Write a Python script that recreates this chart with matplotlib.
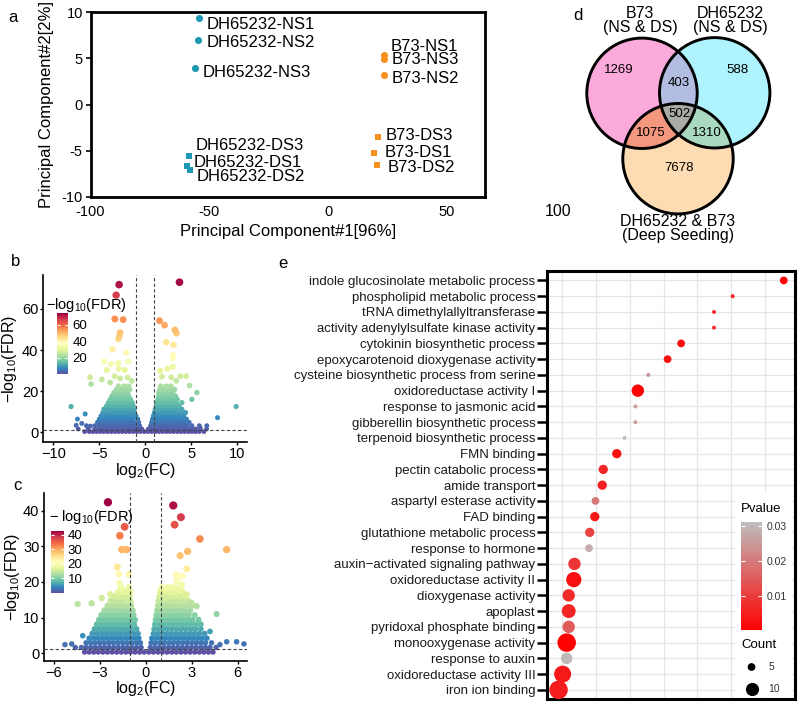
import numpy as np
import matplotlib
matplotlib.use("Agg")
import matplotlib.pyplot as plt
from matplotlib.patches import Circle, Polygon
from matplotlib.colors import LinearSegmentedColormap, Normalize
from matplotlib.cm import ScalarMappable

plt.rcParams['font.family'] = ['Liberation Sans', 'DejaVu Sans']
plt.rcParams['mathtext.fontset'] = 'custom'
plt.rcParams['mathtext.rm'] = 'Liberation Sans'
plt.rcParams['mathtext.default'] = 'regular'

# ---------------- data ----------------
# a: PCA
pca_labels = ['DH65232-NS1', 'DH65232-NS2', 'DH65232-NS3',
              'DH65232-DS3', 'DH65232-DS1', 'DH65232-DS2',
              'B73-NS1', 'B73-NS3', 'B73-NS2',
              'B73-DS3', 'B73-DS1', 'B73-DS2']
pca_line = ['DH65232'] * 6 + ['B73'] * 6
pca_cond = ['NS', 'NS', 'NS', 'DS', 'DS', 'DS', 'NS', 'NS', 'NS', 'DS', 'DS', 'DS']
pca_pc1 = [-54.4, -54.9, -56.0, -58.4, -59.5, -58.1, 23.5, 23.5, 23.5, 20.8, 19.4, 20.5]
pca_pc2 = [9.32, 6.94, 3.91, -5.57, -6.62, -7.08, 5.35, 4.89, 3.16, -3.51, -5.28, -6.54]

# b: volcano (dense cloud read as rows of points, plus the separated points)
b_rows_y = [0.3, 1.6, 3.2, 4.8, 6.4, 8.0, 9.6, 11.2, 12.8, 14.4, 16.0, 17.6, 19.2, 20.8, 22.4]
b_rows_x = [
    [-6.6, -6.1, -5.7, -5.3, -4.9, -4.5, -4.1, -3.7, -3.3, -2.9, -2.5, -2.1, -1.7, -1.3, -0.9, -0.5, -0.1,
     0.3, 0.7, 1.1, 1.5, 1.9, 2.3, 2.7, 3.1, 3.5, 3.9, 4.3, 4.7, 5.1, 5.5, 5.9, 6.4],
    [-7.3, -6.2, -5.5, -5.1, -4.7, -4.3, -3.9, -3.5, -3.1, -2.7, -2.3, -1.9, -1.5, -1.1, -0.7, -0.35,
     0.35, 0.7, 1.1, 1.5, 1.9, 2.3, 2.7, 3.1, 3.5, 3.9, 4.3, 4.7, 5.1, 5.5, 6.0, 6.7],
    [-6.4, -5.5, -5.0, -4.6, -4.2, -3.8, -3.4, -3.0, -2.6, -2.2, -1.8, -1.4, -1.0, -0.6,
     0.6, 1.0, 1.4, 1.8, 2.2, 2.6, 3.0, 3.4, 3.8, 4.2, 4.6, 5.1, 5.9],
    [-5.2, -4.8, -4.4, -4.0, -3.6, -3.2, -2.8, -2.4, -2.0, -1.6, -1.2, -0.7,
     0.7, 1.1, 1.5, 1.9, 2.3, 2.7, 3.1, 3.5, 3.9, 4.3, 4.8],
    [-5.0, -4.5, -4.1, -3.7, -3.3, -2.9, -2.5, -2.1, -1.7, -1.3, -0.8,
     0.8, 1.2, 1.6, 2.0, 2.4, 2.8, 3.2, 3.6, 4.0, 4.5],
    [-4.8, -4.3, -3.9, -3.5, -3.1, -2.7, -2.3, -1.9, -1.5, -1.0,
     0.9, 1.3, 1.7, 2.1, 2.5, 2.9, 3.3, 3.7, 4.2],
    [-4.6, -4.1, -3.7, -3.3, -2.9, -2.5, -2.1, -1.7, -1.2, 1.0, 1.4, 1.8, 2.2, 2.6, 3.0, 3.4, 3.9, 4.4],
    [-4.5, -4.0, -3.6, -3.2, -2.8, -2.4, -2.0, -1.6, -1.2, 1.1, 1.5, 1.9, 2.3, 2.7, 3.1, 3.5, 4.0],
    [-4.2, -3.7, -3.3, -2.9, -2.5, -2.1, -1.7, -1.3, 1.2, 1.6, 2.0, 2.4, 2.8, 3.2, 3.7],
    [-4.0, -3.5, -3.1, -2.7, -2.3, -1.9, -1.4, 1.3, 1.7, 2.1, 2.5, 2.9, 3.4, 4.0],
    [-3.8, -3.3, -2.9, -2.5, -2.1, -1.6, 1.4, 1.8, 2.2, 2.6, 3.0, 3.5],
    [-3.6, -3.1, -2.7, -2.3, -1.8, 1.5, 1.9, 2.3, 2.8, 3.3],
    [-3.4, -2.9, -2.4, -1.9, 1.5, 2.0, 2.5, 3.0],
    [-3.1, -2.6, -2.1, -1.7, 1.6, 2.1, 2.7, 3.2],
    [-2.9, -2.3, -1.8, 1.7, 2.3, 2.8],
]
b_out_x = [-2.84, -3.16, 3.74, -3.30, -2.40, 1.56, 2.11, 3.24, 3.42, -2.73, -2.80, -2.91, 2.29, 3.09,
           -3.57, -2.04, 3.02, 3.02, -4.47, -1.82, -2.94, 3.02, -6.0, -5.89, 5.64, -8.07, 9.92, 7.89,
           -6.54, -3.71, -2.88, -4.18, -2.22, -3.32, -1.92, -4.72, -2.73, -3.82, -1.45,
           1.64, 2.43, 3.82, 4.47, 2.84, 1.82, 4.84, 3.38, 5.09, 6.72, 6.0, -7.38, -6.91, -7.52, -5.97]
b_out_y = [71.8, 66.7, 73.0, 55.1, 54.8, 54.3, 52.1, 49.8, 48.2, 48.5, 46.9, 45.4, 43.8, 42.5,
           40.4, 38.7, 37.6, 36.0, 34.4, 34.4, 33.6, 31.9, 26.8, 23.4, 19.3, 12.5, 12.5, 7.1,
           8.9, 33.2, 30.8, 30.3, 30.3, 27.3, 26.7, 25.7, 26.2, 24.2, 25.0,
           29.9, 30.9, 27.3, 27.3, 26.7, 27.0, 22.7, 25.0, 16.0, 3.2, 2.1, 6.4, 4.3, 3.4, 3.0]

# c: volcano
c_rows_y = [0.3, 1.6, 2.9, 4.2, 5.5, 6.8, 8.1, 9.4, 10.7, 12.0, 13.3, 14.6, 15.9, 17.2, 18.5]
c_rows_x = [
    [-4.0, -3.7, -3.4, -3.1, -2.8, -2.5, -2.2, -1.9, -1.6, -1.3, -1.0, -0.7, -0.4, -0.1,
     0.2, 0.5, 0.8, 1.1, 1.4, 1.7, 2.0, 2.3, 2.6, 2.9, 3.2, 3.5, 3.8, 4.1, 4.4],
    [-4.6, -4.2, -3.9, -3.6, -3.3, -3.0, -2.7, -2.4, -2.1, -1.8, -1.5, -1.2, -0.9, -0.6, -0.3,
     0.3, 0.6, 0.9, 1.2, 1.5, 1.8, 2.1, 2.4, 2.7, 3.0, 3.3, 3.6, 3.9, 4.2, 4.6],
    [-3.9, -3.6, -3.3, -3.0, -2.7, -2.4, -2.1, -1.8, -1.5, -1.2, -0.9, -0.6, -0.35,
     0.35, 0.6, 0.9, 1.2, 1.5, 1.8, 2.1, 2.4, 2.7, 3.0, 3.3, 3.6, 3.9, 4.3],
    [-3.7, -3.4, -3.1, -2.8, -2.5, -2.2, -1.9, -1.6, -1.3, -1.0, -0.7, -0.45,
     0.4, 0.7, 1.0, 1.3, 1.6, 1.9, 2.2, 2.5, 2.8, 3.1, 3.4, 3.7, 4.0],
    [-3.5, -3.2, -2.9, -2.6, -2.3, -2.0, -1.7, -1.4, -1.1, -0.8, -0.5,
     0.5, 0.8, 1.1, 1.4, 1.7, 2.0, 2.3, 2.6, 2.9, 3.2, 3.5, 3.85],
    [-3.35, -3.05, -2.75, -2.45, -2.15, -1.85, -1.55, -1.25, -0.95, -0.6,
     0.55, 0.85, 1.15, 1.45, 1.75, 2.05, 2.35, 2.65, 2.95, 3.25, 3.6],
    [-3.2, -2.9, -2.6, -2.3, -2.0, -1.7, -1.4, -1.1, -0.75,
     0.6, 0.9, 1.2, 1.5, 1.8, 2.1, 2.4, 2.7, 3.0, 3.3, 3.6],
    [-3.05, -2.75, -2.45, -2.15, -1.85, -1.55, -1.25, -0.95, -0.7,
     0.65, 0.95, 1.25, 1.55, 1.85, 2.15, 2.45, 2.75, 3.05, 3.45],
    [-2.9, -2.6, -2.3, -2.0, -1.7, -1.4, -1.1, -0.8, 0.7, 1.0, 1.3, 1.6, 1.9, 2.2, 2.5, 2.8, 3.2],
    [-2.7, -2.4, -2.1, -1.8, -1.5, -1.2, -0.85, 0.75, 1.05, 1.35, 1.65, 1.95, 2.25, 2.55, 2.9],
    [-2.5, -2.2, -1.9, -1.6, -1.3, -0.95, 0.8, 1.1, 1.4, 1.7, 2.0, 2.3, 2.65, 3.0],
    [-2.3, -2.0, -1.7, -1.4, -1.0, 0.85, 1.15, 1.45, 1.75, 2.05, 2.4, 2.8],
    [-2.05, -1.75, -1.45, -1.05, 0.9, 1.2, 1.5, 1.8, 2.2, 2.6],
    [-1.8, -1.4, -1.0, 0.95, 1.3, 1.65, 2.0, 2.4],
    [-1.6, -1.1, 1.05, 1.45, 1.85, 2.3],
]
c_out_x = [-2.47, 1.80, 2.30, 1.89, -1.38, -1.69, 3.54, -1.56, -1.25, 5.29, 2.74, 2.25, 2.69, -1.86,
           -1.75, -1.12, 1.97, 2.19, 2.41, -4.45, -3.54, 4.63, -5.28, -4.84, -4.12, 5.29, 5.94, 6.42,
           4.85, 4.20, -1.73, -1.25, -2.32, -1.14, -2.88, 1.25, 1.69, 2.24, 2.67, 3.0, 3.32, 2.02, 2.35]
c_out_y = [42.4, 41.5, 38.2, 36.1, 35.5, 33.0, 32.1, 29.1, 29.1, 29.1, 28.6, 27.4, 23.7, 24.2,
           22.2, 22.2, 22.0, 21.6, 21.6, 13.8, 14.0, 11.0, 2.4, 2.6, 4.9, 3.2, 3.2, 2.6,
           2.4, 6.1, 19.7, 17.4, 16.5, 15.5, 15.5, 15.5, 18.3, 18.3, 16.5, 14.1, 13.2, 20.2, 19.2]

# d: Venn counts
venn_sets = ['B73\n(NS & DS)', 'DH65232\n(NS & DS)', 'DH65232 & B73\n(Deep Seeding)']
venn_only_b73, venn_only_dh, venn_only_deep = 1269, 588, 7678
venn_b73_dh, venn_b73_deep, venn_dh_deep, venn_all = 403, 1075, 1310, 502

# e: GO enrichment
go_terms = ['indole glucosinolate metabolic process', 'phospholipid metabolic process',
            'tRNA dimethylallyltransferase', 'activity adenylylsulfate kinase activity',
            'cytokinin biosynthetic process', 'epoxycarotenoid dioxygenase activity',
            'cysteine biosynthetic process from serine', 'oxidoreductase activity I',
            'response to jasmonic acid', 'gibberellin biosynthetic process',
            'terpenoid biosynthetic process', 'FMN binding', 'pectin catabolic process',
            'amide transport', 'aspartyl esterase activity', 'FAD binding',
            'glutathione metabolic process', 'response to hormone',
            'auxin\u2212activated signaling pathway', 'oxidoreductase activity II',
            'dioxygenase activity', 'apoplast', 'pyridoxal phosphate binding',
            'monooxygenase activity', 'response to auxin', 'oxidoreductase activity III',
            'iron ion binding']
go_ratio = [0.755, 0.604, 0.549, 0.549, 0.452, 0.412, 0.355, 0.324, 0.317, 0.317, 0.285, 0.262,
            0.222, 0.219, 0.199, 0.197, 0.182, 0.180, 0.137, 0.135, 0.120, 0.120, 0.120, 0.114,
            0.114, 0.102, 0.090]
go_count = [5, 4, 4, 4, 5, 5, 4, 9, 4, 4, 4, 6, 6, 6, 5, 6, 6, 5, 9, 13, 9, 11, 9, 19, 8, 16, 19]
go_pvalue = [0.0002, 0.006, 0.008, 0.008, 0.002, 0.003, 0.024, 0.0001, 0.026, 0.026, 0.0312, 0.003,
             0.006, 0.005, 0.020, 0.004, 0.011, 0.028, 0.009, 0.003, 0.007, 0.006, 0.015, 0.0001,
             0.030, 0.004, 0.005]

W, H = 798, 702
TEAL = '#1d98b3'
ORANGE = '#f7901e'


def box(x0, y0, x1, y1):
    return [x0 / W, 1 - y1 / H, (x1 - x0) / W, (y1 - y0) / H]


fig = plt.figure(figsize=(W / 100, H / 100), dpi=100)

# ---------------- a: PCA ----------------
lab_dx = [8, 9, 8, 6, 7, 7, 7, 8, 8, 8, 10, 11]
lab_dy = [6, 2.4, 4.2, -10.2, -3.2, 6.7, -9, 0.6, 3, -1.2, -1.3, 2.2]
ax = fig.add_axes(box(90.5, 12, 485, 197))
for i, lab in enumerate(pca_labels):
    col = TEAL if pca_line[i] == 'DH65232' else ORANGE
    if pca_cond[i] == 'NS':
        ax.scatter(pca_pc1[i], pca_pc2[i], s=26, marker='o', color=col, lw=0, zorder=3)
    else:
        ax.scatter(pca_pc1[i], pca_pc2[i], s=20, marker='s', color=col, lw=0, zorder=3)
    ax.annotate(lab, (pca_pc1[i], pca_pc2[i]), xytext=(lab_dx[i] * 0.72, -lab_dy[i] * 0.72),
                textcoords='offset points', ha='left', va='center', fontsize=12)
ax.set_xlim(-100, 66)
ax.set_ylim(-10, 10)
ax.set_xticks([-100, -50, 0, 50])
ax.set_xticklabels(['-100', '-50', '0', '50'])
ax.set_yticks([-10, -5, 0, 5, 10])
ax.set_yticklabels(['-10', '-5', '0', '5', '10'])
ax.tick_params(axis='x', length=0, pad=6, labelsize=10.5)
ax.tick_params(axis='y', length=3.5, width=1.2, pad=2, labelsize=10.5)
for sp in ax.spines.values():
    sp.set_linewidth(2)
ax.set_xlabel('Principal Component#1[96%]', fontsize=12)
ax.set_ylabel('Principal Component#2[2%]', fontsize=12)
ax.xaxis.set_label_coords(0.5, -0.184)
ax.xaxis.label.set_va('center')
ax.yaxis.set_label_coords(-0.111, 0.5)
ax.yaxis.label.set_va('center')


# ---------------- b, c: volcano ----------------
def volcano(pos, rows_y, rows_x, out_x, out_y, vmax, base_d, xlim, ylim, xticks, yticks,
            cbox, cticks, title, title_xy, xlab_y, ylab_x):
    ax = fig.add_axes(box(*pos))
    cmap = plt.get_cmap('Spectral_r')
    norm = Normalize(0, vmax)
    xs, ys = [], []
    for yv, xr in zip(rows_y, rows_x):
        xs += xr
        ys += [yv] * len(xr)
    order = np.argsort(out_y)
    xs += [out_x[k] for k in order]
    ys += [out_y[k] for k in order]
    ys_a = np.array(ys)
    d = base_d + 3.0 * ys_a / vmax
    ax.scatter(xs, ys, s=(d * 0.72) ** 2, c=ys_a, cmap=cmap, norm=norm, lw=0, zorder=2)
    for xv in (-1, 1):
        ax.axvline(xv, ls=(0, (3, 2)), color='#444444', lw=0.8, zorder=3)
    ax.axhline(1.3, ls=(0, (3, 2)), color='#444444', lw=0.8, zorder=3)
    ax.set_xlim(*xlim)
    ax.set_ylim(*ylim)
    ax.set_xticks(xticks)
    ax.set_yticks(yticks)
    for s in ('top', 'right'):
        ax.spines[s].set_visible(False)
    for s in ('left', 'bottom'):
        ax.spines[s].set_linewidth(1.2)
    ax.tick_params(labelsize=10.5, length=2.5, width=1, pad=1)
    ax.set_xlabel('log$_2$(FC)', fontsize=11.5)
    ax.set_ylabel('\u2212log$_{10}$(FDR)', fontsize=11.5)
    ax.xaxis.set_label_coords(0.5, xlab_y)
    ax.xaxis.label.set_va('center')
    ax.yaxis.set_label_coords(ylab_x, 0.5)
    ax.yaxis.label.set_va('center')

    cax = fig.add_axes(box(*cbox))
    cb = fig.colorbar(ScalarMappable(norm=norm, cmap=cmap), cax=cax)
    cb.set_ticks(cticks)
    cb.outline.set_visible(False)
    cax.tick_params(labelsize=9.5, length=2.5, width=0.8, color='white', direction='in',
                    left=True, right=True, pad=3)
    fig.text(title_xy[0] / W, 1 - title_xy[1] / H, title, fontsize=10.5, ha='left', va='center')
    return ax


volcano((43.3, 275, 247, 441.7), b_rows_y, b_rows_x, b_out_x, b_out_y, 74, 4.7,
        (-11.1, 11.1), (-4.6, 76.5), [-10, -5, 0, 5, 10], [0, 20, 40, 60],
        (56.5, 313.3, 68.3, 374.3), [20, 40, 60], '\u2212log$_{10}$(FDR)', (46, 305),
        -0.172, -0.167)
volcano((44.3, 493, 247, 661), c_rows_y, c_rows_x, c_out_x, c_out_y, 42.5, 5.3,
        (-6.63, 6.62), (-2.2, 45), [-6, -3, 0, 3, 6], [0, 10, 20, 30, 40],
        (51, 531, 63.5, 593), [10, 20, 30, 40], '\u2212 log$_{10}$(FDR)', (49, 517),
        -0.165, -0.157)

# ---------------- e: GO dot plot ----------------
ax = fig.add_axes(box(547.3, 271, 795, 699.3))
n = len(go_terms)
ypos = np.arange(1, n + 1)
cmin, cmax = min(go_count), max(go_count)


def count_size(c):
    dpx = 4.0 + 14.5 * np.sqrt((np.asarray(c, float) - cmin) / (cmax - cmin))
    return (dpx * 0.72) ** 2


pcmap = LinearSegmentedColormap.from_list('pv', ['#ff0000', '#bebebe'])
pnorm = Normalize(min(go_pvalue), max(go_pvalue))
ax.scatter(go_ratio, ypos, s=count_size(go_count), c=go_pvalue, cmap=pcmap, norm=pnorm,
           lw=0, zorder=3)
rng = max(go_ratio) - min(go_ratio)
ax.set_xlim(min(go_ratio) - 0.05 * rng, max(go_ratio) + 0.05 * rng)
ax.set_ylim(n + 0.6, 0.4)
ax.set_yticks(ypos)
ax.set_yticklabels(go_terms, fontsize=9.5, color='#1a1a1a')
ax.set_xticks([0.1, 0.2, 0.3, 0.4, 0.5, 0.6, 0.7])
ax.tick_params(axis='x', bottom=False, labelbottom=False)
ax.tick_params(axis='y', length=7, width=1.8, pad=1.5)
ax.grid(True, color='#e6e6e6', lw=0.9)
ax.set_axisbelow(True)
for sp in ax.spines.values():
    sp.set_linewidth(2.2)

# legend of e
lg = fig.add_axes(box(735, 493, 792, 697))
lg.set_xlim(735, 792)
lg.set_ylim(697, 493)
lg.set_xticks([])
lg.set_yticks([])
for sp in lg.spines.values():
    sp.set_visible(False)
lg.set_zorder(5)
lg.text(741, 509, 'Pvalue', fontsize=9.5, ha='left', va='center')
lg.text(741, 645, 'Count', fontsize=9.5, ha='left', va='center')
lg.scatter([751.5, 752.5], [667, 689.5], s=count_size([5, 10]), color='black', lw=0)
lg.text(768.5, 667, '5', fontsize=7.5, ha='left', va='center', color='#333333')
lg.text(768.5, 689.5, '10', fontsize=7.5, ha='left', va='center', color='#333333')
pcax = fig.add_axes(box(741.3, 522.3, 762.2, 630.1))
pcax.set_zorder(6)
pcb = fig.colorbar(ScalarMappable(norm=pnorm, cmap=pcmap), cax=pcax)
pcb.set_ticks([0.01, 0.02, 0.03])
pcb.set_ticklabels(['0.01', '0.02', '0.03'])
pcb.outline.set_visible(False)
pcax.tick_params(labelsize=7.5, labelcolor='#333333', length=3, width=0.8, color='white',
                 direction='in', left=True, right=True, pad=3)

# ---------------- overlay: d Venn + panel letters ----------------
ov = fig.add_axes([0, 0, 1, 1])
ov.set_xlim(0, W)
ov.set_ylim(H, 0)
ov.axis('off')

cL, cR, cB, rad = (642.0, 93.3), (714.7, 92.8), (678.0, 158.7), 55.2
patL = Circle(cL, rad, transform=ov.transData)
patR = Circle(cR, rad, transform=ov.transData)
ov.add_patch(Circle(cL, rad, facecolor='#fcaadc', lw=0))
ov.add_patch(Circle(cR, rad, facecolor='#aef3fd', lw=0))
ov.add_patch(Circle(cB, rad, facecolor='#fddbb3', lw=0))
p = ov.add_patch(Circle(cR, rad, facecolor='#b3bde2', lw=0))
p.set_clip_path(patL)
p = ov.add_patch(Circle(cB, rad, facecolor='#f3977f', lw=0))
p.set_clip_path(patL)
p = ov.add_patch(Circle(cB, rad, facecolor='#a9d9bf', lw=0))
p.set_clip_path(patR)
# lens of R and B, used to clip the triple overlap
t = np.linspace(0, 2 * np.pi, 720)
pts = []
for c1, c2 in ((cR, cB), (cB, cR)):
    px = c1[0] + rad * np.cos(t)
    py = c1[1] + rad * np.sin(t)
    inside = (px - c2[0]) ** 2 + (py - c2[1]) ** 2 <= rad ** 2
    pts += list(zip(px[inside], py[inside]))
pts = np.array(pts)
cen = pts.mean(axis=0)
pts = pts[np.argsort(np.arctan2(pts[:, 1] - cen[1], pts[:, 0] - cen[0]))]
lens = Polygon(pts, closed=True, transform=ov.transData)
p = ov.add_patch(Circle(cL, rad, facecolor='#a9aba7', lw=0))
p.set_clip_path(lens)
for c in (cL, cR, cB):
    ov.add_patch(Circle(c, rad, fill=False, edgecolor='black', lw=2.1))

num_kw = dict(fontsize=9.5, ha='center', va='center')
ov.text(619, 70.3, str(venn_only_b73), **num_kw)
ov.text(737, 70.3, str(venn_only_dh), **num_kw)
ov.text(679, 83, str(venn_b73_dh), **num_kw)
ov.text(679, 114, str(venn_all), **num_kw)
ov.text(651, 133, str(venn_b73_deep), **num_kw)
ov.text(707, 133, str(venn_dh_deep), **num_kw)
ov.text(679, 168.3, str(venn_only_deep), **num_kw)
ov.text(640, 20.5, venn_sets[0], fontsize=11.5, ha='center', va='center', linespacing=0.95)
ov.text(730, 20.5, venn_sets[1], fontsize=11.5, ha='center', va='center', linespacing=0.95)
ov.text(678, 228.5, venn_sets[2], fontsize=11.5, ha='center', va='center', linespacing=0.95)
ov.text(558, 212, '100', fontsize=11.5, ha='center', va='center')

for letter, x, y in (('a', 13, 17), ('b', 16, 262), ('c', 17, 485), ('d', 578, 15), ('e', 283, 263)):
    ov.text(x, y, letter, fontsize=12, ha='center', va='center')

fig.savefig('out.png', dpi=100)
